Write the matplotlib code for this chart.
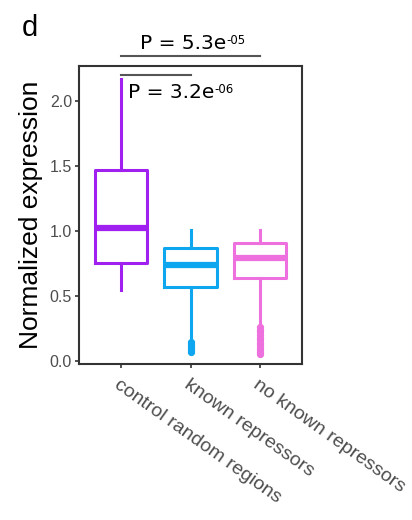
import matplotlib
matplotlib.use("Agg")
import matplotlib.pyplot as plt

plt.rcParams['font.family'] = ['Liberation Sans', 'DejaVu Sans']

# Group names and box statistics (Normalized expression)
categories = ["control random regions", "known repressors", "no known repressors"]
colors = ["#A020F0", "#0DA6EF", "#EE70DE"]
q1 = [0.75, 0.57, 0.64]
medians = [1.02, 0.74, 0.79]
q3 = [1.47, 0.87, 0.91]
whisker_low = [0.55, 0.185, 0.275]
whisker_high = [2.17, 1.01, 1.01]
outliers = [
    [],
    [0.07, 0.085, 0.10, 0.115, 0.13, 0.145],
    [0.055, 0.07, 0.085, 0.10, 0.125, 0.14, 0.16, 0.18, 0.20, 0.22, 0.24, 0.26],
]
yticks = [0.0, 0.5, 1.0, 1.5, 2.0]

# Pairwise comparisons: (group a, group b, label, exponent)
comparisons = [
    (1, 3, "P = 5.3e", "-05"),
    (1, 2, "P = 3.2e", "-06"),
]

fig = plt.figure(figsize=(4.12, 5.2), dpi=100)
ax = fig.add_axes([79 / 412, 156 / 520, 223 / 412, 298 / 520])

positions = [1, 2, 3]
for i, pos in enumerate(positions):
    stats = [{
        "med": medians[i], "q1": q1[i], "q3": q3[i],
        "whislo": whisker_low[i], "whishi": whisker_high[i],
        "fliers": outliers[i], "label": categories[i],
    }]
    c = colors[i]
    ax.bxp(stats, positions=[pos], widths=0.75, showcaps=False,
           boxprops=dict(color=c, linewidth=2.2),
           whiskerprops=dict(color=c, linewidth=2.2),
           medianprops=dict(color=c, linewidth=4.5, solid_capstyle='butt'),
           flierprops=dict(marker='o', markersize=4.2, markerfacecolor=c,
                           markeredgecolor=c, linestyle='none'),
           manage_ticks=False)

ax.set_xlim(0.4, 3.6)
ax.set_ylim(-0.023, 2.269)
ax.set_yticks(yticks)
ax.set_yticklabels([f"{v:.1f}" for v in yticks])
ax.set_xticks(positions)
ax.set_xticklabels(categories, rotation=-35.5, ha='left', va='top',
                   rotation_mode='anchor', fontsize=14, color='#4D4D4D')
ax.tick_params(axis='y', labelsize=11.5, labelcolor='#4D4D4D', color='#333333',
               length=3, width=1.2, pad=2)
ax.tick_params(axis='x', color='#333333', length=3, width=1.2, pad=6)
for s in ax.spines.values():
    s.set_color('#333333')
    s.set_linewidth(1.5)

ax.set_ylabel("Normalized expression", fontsize=19, labelpad=5)

# Significance brackets and labels
bracket_y = [2.346, 2.2]
label_pos = [(1.27, 2.40), (1.10, 2.023)]
for (a, b, txt, exp), by, (tx, ty) in zip(comparisons, bracket_y, label_pos):
    ax.plot([a, b], [by, by], color='#555555', linewidth=1.5, clip_on=False)
    t = ax.text(tx, ty, txt, fontsize=14.5, family='DejaVu Sans',
                ha='left', va='baseline', clip_on=False)
    ax.annotate(exp, xy=(1, 1), xycoords=t, xytext=(0.5, 0),
                textcoords='offset points', ha='left', va='top',
                fontsize=8.5, family='DejaVu Sans', annotation_clip=False)

fig.text(22 / 412, 1 - 36 / 520, "d", fontsize=21, ha='left', va='baseline')

fig.savefig("out.png", dpi=100)
